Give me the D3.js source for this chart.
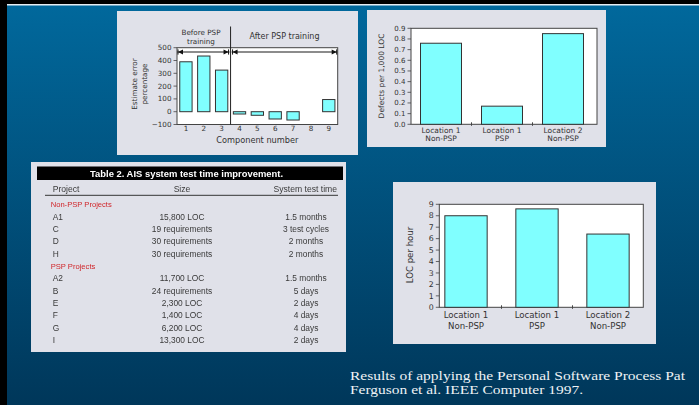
<!DOCTYPE html>
<html>
<head>
<meta charset="utf-8">
<script src="https://cdn.jsdelivr.net/npm/d3@7"></script>
<style>
  body { margin: 0; background: #000; }
  svg { display: block; }
</style>
</head>
<body>
<svg id="slide" width="699" height="405"></svg>
<script>
// ---- Estimate error by component ----
const componentNumbers = [1, 2, 3, 4, 5, 6, 7, 8, 9];
const estimateErrorPct = [390, 435, 325, -18, -28, -57, -65, 0, 95];
const errorTicks = [-100, 0, 100, 200, 300, 400, 500];

// ---- Defect density and productivity by location ----
const locationGroups = [["Location 1", "Non-PSP"], ["Location 1", "PSP"], ["Location 2", "Non-PSP"]];
const defectsPerKLOC = [0.76, 0.17, 0.85];
const defectTicks = [0, 0.1, 0.2, 0.3, 0.4, 0.5, 0.6, 0.7, 0.8, 0.9];
const locPerHour = [8.0, 8.6, 6.4];
const locTicks = [0, 1, 2, 3, 4, 5, 6, 7, 8, 9];

// ---- Table 2 ----
const tableTitle = "Table 2. AIS system test time improvement.";
const tableColumns = ["Project", "Size", "System test time"];
const nonPspProjects = [
  ["A1", "15,800 LOC", "1.5 months"],
  ["C", "19 requirements", "3 test cycles"],
  ["D", "30 requirements", "2 months"],
  ["H", "30 requirements", "2 months"]
];
const pspProjects = [
  ["A2", "11,700 LOC", "1.5 months"],
  ["B", "24 requirements", "5 days"],
  ["E", "2,300 LOC", "2 days"],
  ["F", "1,400 LOC", "4 days"],
  ["G", "6,200 LOC", "4 days"],
  ["I", "13,300 LOC", "2 days"]
];

const captionLines = [
  "Results of applying the Personal Software Process Pat",
  "Ferguson et al. IEEE Computer  1997."
];
const captionWidths = [335, 233];

const SANS = "'DejaVu Sans', sans-serif";
const INK = "#333";
const BAR_FILL = "#80FFFF";
const PANEL = "#E0E1E9";

const svg = d3.select("#slide");
const defs = svg.append("defs");
const grad = defs.append("linearGradient").attr("id", "slideBg")
  .attr("x1", 0).attr("y1", 0).attr("x2", 0).attr("y2", 1);
grad.append("stop").attr("offset", "0%").attr("stop-color", "#01699D");
grad.append("stop").attr("offset", "100%").attr("stop-color", "#00375A");
defs.append("filter").attr("id", "soft")
  .append("feGaussianBlur").attr("stdDeviation", 0.35);

// slide background and black frame
svg.append("rect").attr("width", 699).attr("height", 405).attr("fill", "url(#slideBg)");
svg.append("rect").attr("x", 0).attr("y", 0).attr("width", 699).attr("height", 4).attr("fill", "#000");
svg.append("rect").attr("x", 7).attr("y", 4).attr("width", 692).attr("height", 1.5).attr("fill", "#E6EDF3");
svg.append("rect").attr("x", 0).attr("y", 0).attr("width", 7).attr("height", 405).attr("fill", "#000");

function panel(x, y, w, h) {
  svg.append("rect").attr("x", x).attr("y", y).attr("width", w).attr("height", h).attr("fill", PANEL);
}
panel(117, 11, 241, 144);
panel(367, 10, 239, 137);
panel(31, 162, 315, 190);
panel(393, 182, 263, 162);

function plotBox(g, x0, x1, y0, y1) {
  g.append("rect").attr("x", x0).attr("y", y0).attr("width", x1 - x0).attr("height", y1 - y0)
    .attr("fill", "#fff").attr("stroke", "#444").attr("stroke-width", 1);
}

function yTicks(g, y, ticks, xAxis, fmt, size) {
  const t = g.append("g");
  ticks.forEach(v => {
    t.append("line").attr("x1", xAxis - 3.5).attr("x2", xAxis).attr("y1", y(v)).attr("y2", y(v))
      .attr("stroke", "#444").attr("stroke-width", 0.8);
    t.append("text").attr("x", xAxis - 5.5).attr("y", y(v)).attr("dy", "0.35em")
      .attr("text-anchor", "end").attr("font-family", SANS).attr("font-size", size)
      .attr("fill", INK).text(fmt(v));
  });
}

function rotatedLabel(g, lines, baselineXs, cy, size) {
  lines.forEach((s, i) => {
    g.append("text").attr("transform", `translate(${baselineXs[i]},${cy}) rotate(-90)`)
      .attr("text-anchor", "middle").attr("font-family", SANS).attr("font-size", size)
      .attr("fill", INK).text(s);
  });
}

// ===== Chart 1: estimate error percentage =====
{
  const g = svg.append("g");
  const X0 = 177, X1 = 337.7, Y0 = 47.7, Y1 = 124.5;
  const x = d3.scaleBand().domain(componentNumbers).range([X0, X1]).paddingInner(0.31).paddingOuter(0.155);
  const y = d3.scaleLinear().domain([-100, 500]).range([Y1, Y0]);
  plotBox(g, X0, X1, Y0, Y1);

  g.append("g").selectAll("rect")
    .data(componentNumbers.map((c, i) => ({ c, v: estimateErrorPct[i] })).filter(d => d.v !== 0))
    .join("rect")
    .attr("x", d => x(d.c)).attr("width", x.bandwidth())
    .attr("y", d => Math.min(y(d.v), y(0)))
    .attr("height", d => Math.abs(y(d.v) - y(0)))
    .attr("fill", BAR_FILL).attr("stroke", INK).attr("stroke-width", 1);

  yTicks(g, y, errorTicks, X0, v => (v < 0 ? "\u2212" + Math.abs(v) : String(v)), 7.2);

  componentNumbers.forEach(c => {
    g.append("text").attr("x", x(c) + x.bandwidth() / 2).attr("y", 131.2)
      .attr("text-anchor", "middle").attr("font-family", SANS).attr("font-size", 7.2)
      .attr("fill", INK).text(c);
  });
  g.append("text").attr("x", (X0 + X1) / 2).attr("y", 143.3).attr("text-anchor", "middle")
    .attr("font-family", SANS).attr("font-size", 8.2).attr("fill", INK).text("Component number");
  rotatedLabel(g, ["Estimate error", "percentage"], [137, 146.5], 84, 7.2);

  // before / after divider and span arrows
  const divX = (x(3) + x.bandwidth() + x(4)) / 2;
  g.append("line").attr("x1", divX).attr("x2", divX).attr("y1", 26.5).attr("y2", Y1)
    .attr("stroke", "#222").attr("stroke-width", 1);
  const AY = 52;
  function span(a, b) {
    g.append("line").attr("x1", a).attr("x2", b).attr("y1", AY).attr("y2", AY)
      .attr("stroke", "#666").attr("stroke-width", 1.6);
    g.append("path").attr("d", `M${a + 1},${AY} L${a + 6},${AY - 2.6} L${a + 6},${AY + 2.6} Z`).attr("fill", "#111");
    g.append("path").attr("d", `M${b - 1},${AY} L${b - 6},${AY - 2.6} L${b - 6},${AY + 2.6} Z`).attr("fill", "#111");
    g.append("line").attr("x1", a + 1).attr("x2", a + 1).attr("y1", AY - 2.6).attr("y2", AY + 2.6).attr("stroke", "#111");
    g.append("line").attr("x1", b - 1).attr("x2", b - 1).attr("y1", AY - 2.6).attr("y2", AY + 2.6).attr("stroke", "#111");
  }
  span(X0, divX - 1);
  span(divX + 1, X1);

  g.append("text").attr("x", 201).attr("y", 35).attr("text-anchor", "middle")
    .attr("font-family", SANS).attr("font-size", 7.2).attr("fill", INK).text("Before PSP");
  g.append("text").attr("x", 201).attr("y", 43.7).attr("text-anchor", "middle")
    .attr("font-family", SANS).attr("font-size", 7.2).attr("fill", INK).text("training");
  g.append("text").attr("x", 284.5).attr("y", 39).attr("text-anchor", "middle")
    .attr("font-family", SANS).attr("font-size", 8).attr("fill", INK).text("After PSP training");
}

// ===== generic location bar chart =====
function locationChart(values, ticks, fmt, box, rangeX, pad, tickSize, labelSize, yLabel, yLabelX, yLabelY, catBaselines) {
  const g = svg.append("g");
  const [X0, X1, Y0, Y1] = box;
  const cats = locationGroups.map((d, i) => i);
  const x = d3.scaleBand().domain(cats).range(rangeX).paddingInner(pad).paddingOuter(pad / 2);
  const y = d3.scaleLinear().domain([ticks[0], ticks[ticks.length - 1]]).range([Y1, Y0]);
  plotBox(g, X0, X1, Y0, Y1);

  g.append("g").selectAll("rect").data(values).join("rect")
    .attr("x", (d, i) => x(i)).attr("width", x.bandwidth())
    .attr("y", d => y(d)).attr("height", d => y(0) - y(d))
    .attr("fill", BAR_FILL).attr("stroke", INK).attr("stroke-width", 1);

  yTicks(g, y, ticks, X0, fmt, tickSize);

  // separators between categories on the base line
  cats.slice(1).forEach(i => {
    const sx = x(i) - x.step() * x.paddingInner() / 2;
    g.append("line").attr("x1", sx).attr("x2", sx).attr("y1", Y1 - 2).attr("y2", Y1 + 1.5)
      .attr("stroke", "#444").attr("stroke-width", 1);
  });

  locationGroups.forEach((lines, i) => {
    lines.forEach((s, j) => {
      g.append("text").attr("x", x(i) + x.bandwidth() / 2).attr("y", catBaselines[j])
        .attr("text-anchor", "middle").attr("font-family", SANS).attr("font-size", labelSize)
        .attr("fill", INK).text(s);
    });
  });
  rotatedLabel(g, [yLabel], [yLabelX], yLabelY, labelSize);
}

// ===== Chart 2: defects per KLOC =====
locationChart(defectsPerKLOC, defectTicks, d3.format(".1f"),
  [411, 597, 28.3, 124.3], [410.5, 593.5], 0.328, 7, 7.5,
  "Defects per 1,000 LOC", 384.3, 76, [133.4, 141]);

// ===== Chart 4: LOC per hour =====
locationChart(locPerHour, locTicks, d3.format("d"),
  [439.3, 643.3, 204.3, 307.3], [430.5, 643.5], 0.404, 7.8, 8.6,
  "LOC per hour", 413, 255, [318.3, 329]);

// ===== Table 2 =====
{
  const g = svg.append("g").attr("filter", "url(#soft)");
  g.append("rect").attr("x", 37).attr("y", 166.5).attr("width", 306).attr("height", 13.5).attr("fill", "#000");
  g.append("text").attr("x", 186.5).attr("y", 176.6).attr("text-anchor", "middle")
    .attr("font-family", "'Liberation Sans', Arial, sans-serif").attr("font-weight", "bold")
    .attr("font-size", 9.4).attr("fill", "#fff")
    .attr("textLength", 193).attr("lengthAdjust", "spacingAndGlyphs").text(tableTitle);

  const colX = [52.7, 182, 306];
  const colAnchor = ["start", "middle", "middle"];
  const TF = "'Liberation Sans', Arial, sans-serif";
  const TINK = "#3a3a3a";
  tableColumns.forEach((s, i) => {
    g.append("text").attr("x", i === 2 ? 337 : colX[i]).attr("y", 192.2)
      .attr("text-anchor", i === 2 ? "end" : colAnchor[i])
      .attr("font-family", TF).attr("font-size", 8.6).attr("fill", TINK).text(s);
  });
  g.append("line").attr("x1", 45).attr("x2", 338).attr("y1", 195.3).attr("y2", 195.3)
    .attr("stroke", "#333").attr("stroke-width", 1);

  const rows = [
    { group: "Non-PSP Projects" }, ...nonPspProjects.map(r => ({ cells: r })),
    { group: "PSP Projects" }, ...pspProjects.map(r => ({ cells: r }))
  ];
  const ry = d3.scalePoint().domain(d3.range(rows.length)).range([204.3, 340]);
  rows.forEach((r, i) => {
    if (r.group) {
      g.append("text").attr("x", 50.7).attr("y", ry(i)).attr("dy", "0.35em")
        .attr("font-family", TF).attr("font-size", 7.6).attr("fill", "#D0262A").text(r.group);
    } else {
      r.cells.forEach((s, j) => {
        g.append("text").attr("x", colX[j]).attr("y", ry(i)).attr("dy", "0.35em")
          .attr("text-anchor", colAnchor[j]).attr("font-family", TF).attr("font-size", 8.4)
          .attr("fill", TINK).text(s);
      });
    }
  });
}

// ===== caption =====
captionLines.forEach((s, i) => {
  svg.append("text").attr("x", 350).attr("y", 379.5 + i * 14)
    .attr("font-family", "'Liberation Serif', 'Times New Roman', serif").attr("font-size", 12.5)
    .attr("textLength", captionWidths[i]).attr("lengthAdjust", "spacingAndGlyphs")
    .attr("fill", "#EEF2F5").text(s);
});
</script>
</body>
</html>
